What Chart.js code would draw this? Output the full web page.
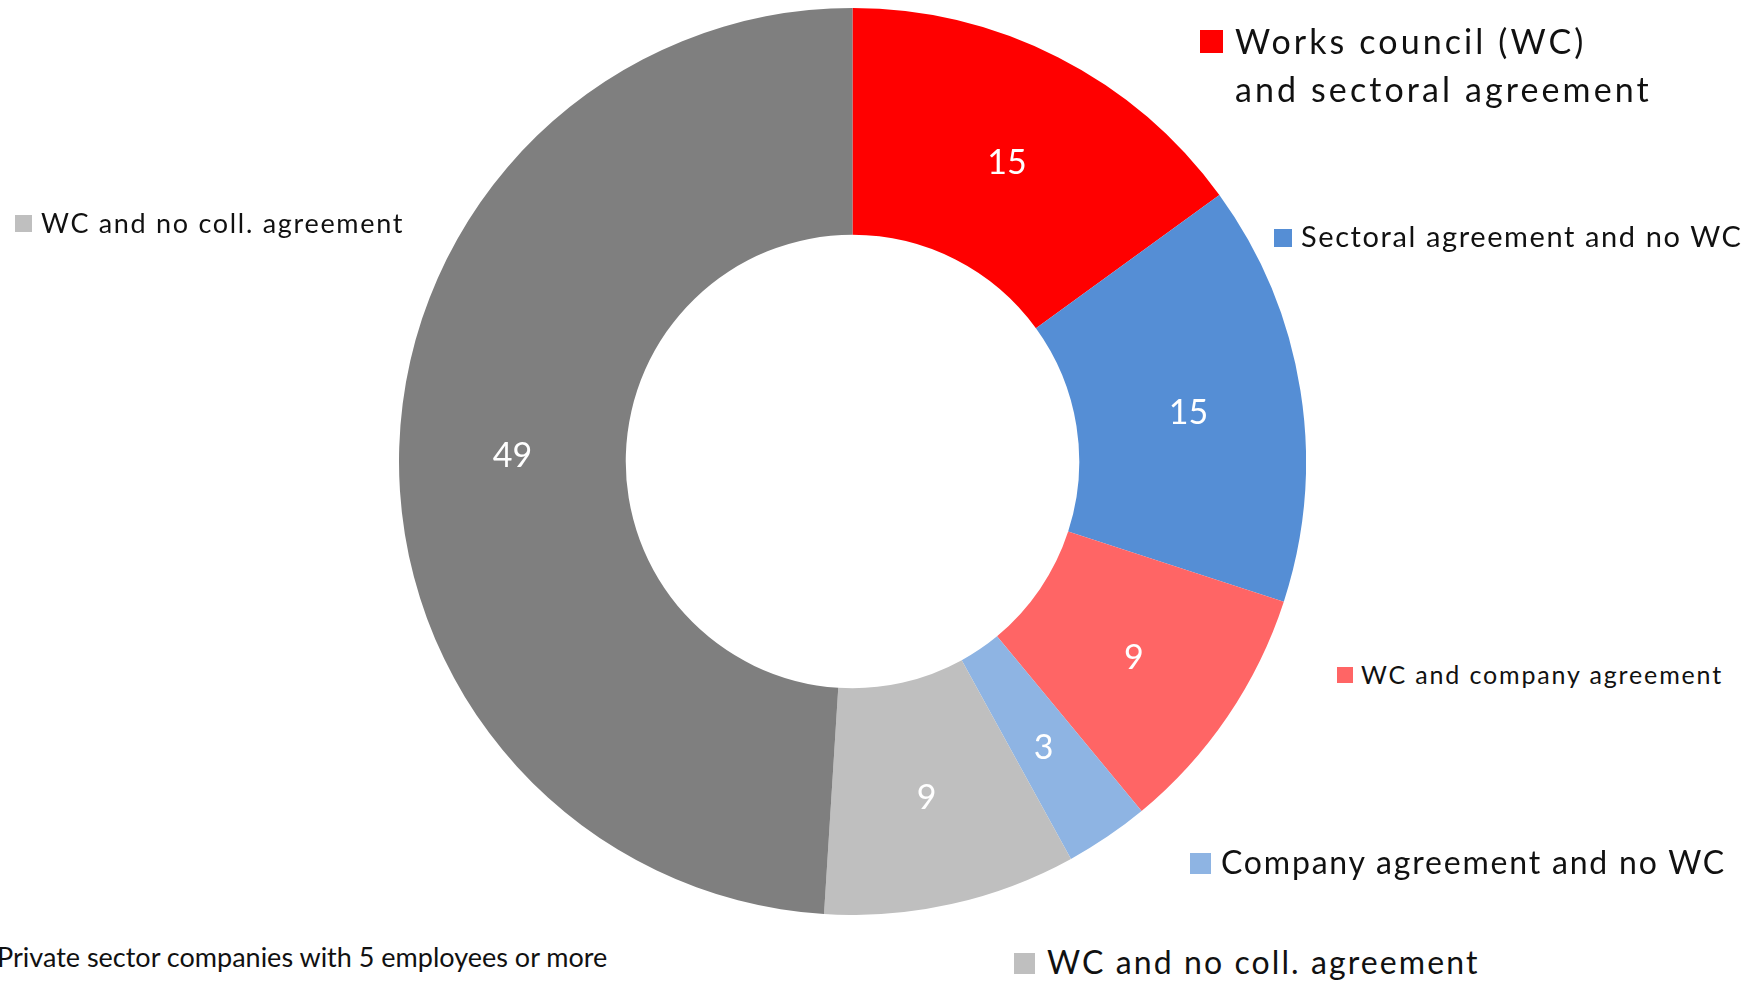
<!DOCTYPE html>
<html>
<head>
<meta charset="utf-8">
<script src="https://cdn.jsdelivr.net/npm/chart.js@4.4.0/dist/chart.umd.min.js"></script>
<style>
  body { margin: 0; background: #fff; width: 1755px; height: 982px; overflow: hidden; position: relative; font-family: Lato, "Open Sans", sans-serif; color: #111; }
  #wrap { position: absolute; left: 399px; top: 8px; width: 907px; height: 907px; }
  .key, .note { position: absolute; white-space: nowrap; }
  .swatch { position: absolute; }
</style>
</head>
<body>
<div id="wrap"><canvas id="donut" width="907" height="907"></canvas></div>
<script>
// categories, values and slice colours (clockwise from 12 o'clock)
var labels = [
  ['Works council (WC)', 'and sectoral agreement'],
  'Sectoral agreement and no WC',
  'WC and company agreement',
  'Company agreement and no WC',
  'WC and no coll. agreement',
  'WC and no coll. agreement'
];
var values = [15, 15, 9, 3, 9, 49];
var colors = ['#FF0000', '#558ED5', '#FF6565', '#8EB4E3', '#BFBFBF', '#7F7F7F'];
var swatchColors = ['#FF0000', '#558ED5', '#FF6565', '#8EB4E3', '#BFBFBF', '#BFBFBF'];
var note = 'Private sector companies with 5 employees or more';

// where each legend entry sits: swatch box, text start, baseline, font size, letter spacing
var keyLayout = [
  { sx: 1200, sy: 30, sw: 23, tx: 1235, base: 54, size: 34, ls: 3.1, lh: 48 },
  { sx: 1274, sy: 229, sw: 18, tx: 1301, base: 247, size: 29, ls: 1.6, lh: 34 },
  { sx: 1337, sy: 667, sw: 16, tx: 1361, base: 684, size: 25, ls: 1.85, lh: 30 },
  { sx: 1190, sy: 853, sw: 21, tx: 1221, base: 874, size: 32, ls: 1.8, lh: 38 },
  { sx: 1014, sy: 953, sw: 21, tx: 1047, base: 974, size: 32, ls: 2.1, lh: 38 },
  { sx: 15, sy: 215, sw: 17, tx: 41, base: 233, size: 27, ls: 1.7, lh: 32 }
];
var noteLayout = { tx: -3, base: 968, size: 27 };

// baseline offset inside a line box, taken from the font's own metrics
var measure = document.createElement('canvas').getContext('2d');
function baselineOffset(size, lh) {
  measure.font = size + 'px Lato';
  var m = measure.measureText('Hg');
  var asc = m.fontBoundingBoxAscent, desc = m.fontBoundingBoxDescent;
  return (lh - (asc + desc)) / 2 + asc;
}

function addText(cls, text, x, base, size, ls, lh) {
  var el = document.createElement('div');
  el.className = cls;
  el.style.left = x + 'px';
  el.style.top = (base - baselineOffset(size, lh)) + 'px';
  el.style.fontSize = size + 'px';
  el.style.lineHeight = lh + 'px';
  el.style.letterSpacing = ls + 'px';
  el.innerHTML = [].concat(text).join('<br>');
  document.body.appendChild(el);
}

keyLayout.forEach(function(k, i) {
  var sq = document.createElement('div');
  sq.className = 'swatch';
  sq.style.left = k.sx + 'px';
  sq.style.top = k.sy + 'px';
  sq.style.width = k.sw + 'px';
  sq.style.height = k.sw + 'px';
  sq.style.background = swatchColors[i];
  document.body.appendChild(sq);
  addText('key', labels[i], k.tx, k.base, k.size, k.ls, k.lh);
});
addText('note', note, noteLayout.tx, noteLayout.base, noteLayout.size, 0, noteLayout.size * 1.2);

// white numbers in the middle of each ring segment
var valueLabels = {
  id: 'valueLabels',
  afterDatasetsDraw: function(chart) {
    var ctx = chart.ctx;
    var meta = chart.getDatasetMeta(0);
    ctx.save();
    ctx.fillStyle = '#fff';
    ctx.font = '34px Lato';
    ctx.textAlign = 'center';
    ctx.textBaseline = 'middle';
    meta.data.forEach(function(arc, i) {
      var p = arc.tooltipPosition();
      ctx.fillText(String(values[i]), p.x, p.y + 5);
    });
    ctx.restore();
  }
};

var chart = new Chart(document.getElementById('donut').getContext('2d'), {
  type: 'doughnut',
  data: {
    labels: labels,
    datasets: [{
      data: values,
      backgroundColor: colors,
      borderWidth: 0
    }]
  },
  options: {
    responsive: false,
    animation: false,
    cutout: '50%',
    layout: { padding: 0 },
    plugins: {
      legend: { display: false },
      tooltip: { enabled: false }
    }
  },
  plugins: [valueLabels]
});
</script>
</body>
</html>
